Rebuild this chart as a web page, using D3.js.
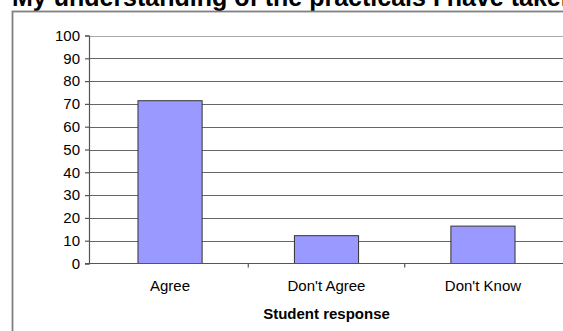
<!DOCTYPE html>
<html>
<head>
<meta charset="utf-8">
<script src="https://cdn.jsdelivr.net/npm/d3@7"></script>
<style>
  body { margin: 0; background: #fff; }
  svg { display: block; font-family: "Liberation Sans", Arial, sans-serif; }
</style>
</head>
<body>
<svg id="chart" width="563" height="331"></svg>
<script>
"use strict";

// Student responses (percent)
const categories = ["Agree", "Don't Agree", "Don't Know"];
const values = [71.4, 12.2, 16.4];
const yTicks = [0, 10, 20, 30, 40, 50, 60, 70, 80, 90, 100];

const chartTitle = "My understanding of the practicals I have taken has improved";
const xTitle = "Student response";

const svg = d3.select("#chart");
const W = 563, H = 331;
const margin = { left: 89, right: 0, top: 35.5, bottom: 67.5 };

// Title, cropped at the top like the original
svg.append("text")
    .attr("x", 12)
    .attr("y", 6)
    .attr("font-size", "25px")
    .attr("font-weight", "bold")
    .attr("fill", "#000")
    .text(chartTitle);

// Outer chart frame
svg.append("rect")
    .attr("x", 12.5)
    .attr("y", 11.5)
    .attr("width", W + 10)
    .attr("height", H + 10)
    .attr("fill", "none")
    .attr("stroke", "#808080")
    .attr("stroke-width", 1.8);

const x = d3.scaleBand()
    .domain(categories)
    .range([margin.left, 564])
    .paddingInner(0.59)
    .paddingOuter(0.313);

const y = d3.scaleLinear()
    .domain([0, 100])
    .range([H - margin.bottom, margin.top]);

// Gridlines
svg.append("g")
    .selectAll("line")
    .data(yTicks.filter(d => d > 0))
    .enter().append("line")
        .attr("x1", margin.left)
        .attr("x2", W)
        .attr("y1", d => Math.round(y(d)) + 0.5)
        .attr("y2", d => Math.round(y(d)) + 0.5)
        .attr("stroke", d => d === 100 ? "#aaa" : "#666")
        .attr("stroke-width", 1.2);

// Bars
svg.append("g")
    .selectAll("rect")
    .data(values)
    .enter().append("rect")
        .attr("x", (d, i) => x(categories[i]))
        .attr("y", d => y(d))
        .attr("width", x.bandwidth())
        .attr("height", d => y(0) - y(d))
        .attr("fill", "#9999ff")
        .attr("stroke", "#333")
        .attr("stroke-width", 1);

// Y axis
const yAxis = svg.append("g")
    .attr("transform", `translate(${margin.left},0)`)
    .call(d3.axisLeft(y).tickValues(yTicks).tickSize(4).tickPadding(5));
yAxis.selectAll("text")
    .attr("font-size", "15px")
    .attr("font-family", "Liberation Sans, Arial, sans-serif")
    .attr("fill", "#000");
yAxis.selectAll("line, path").attr("stroke", "#555").attr("stroke-width", 1.2);

// X axis with ticks between categories
const xAxis = svg.append("g")
    .attr("transform", `translate(0,${y(0)})`);
xAxis.append("line")
    .attr("x1", margin.left - 4)
    .attr("x2", W)
    .attr("stroke", "#555")
    .attr("stroke-width", 1.2);
xAxis.selectAll("line.sep")
    .data(categories.slice(1))
    .enter().append("line")
        .attr("class", "sep")
        .attr("x1", d => x(d) - x.step() * x.paddingInner() / 2)
        .attr("x2", d => x(d) - x.step() * x.paddingInner() / 2)
        .attr("y1", 0)
        .attr("y2", 4)
        .attr("stroke", "#555")
        .attr("stroke-width", 1.2);
xAxis.selectAll("text")
    .data(categories)
    .enter().append("text")
        .attr("x", d => x(d) + x.bandwidth() / 2)
        .attr("y", 27)
        .attr("text-anchor", "middle")
        .attr("font-size", "15px")
        .attr("fill", "#000")
        .text(d => d);

svg.append("text")
    .attr("x", (x(categories[1]) + x.bandwidth() / 2))
    .attr("y", 318.5)
    .attr("text-anchor", "middle")
    .attr("font-size", "15px")
    .attr("font-weight", "bold")
    .attr("fill", "#000")
    .text(xTitle);
</script>
</body>
</html>
